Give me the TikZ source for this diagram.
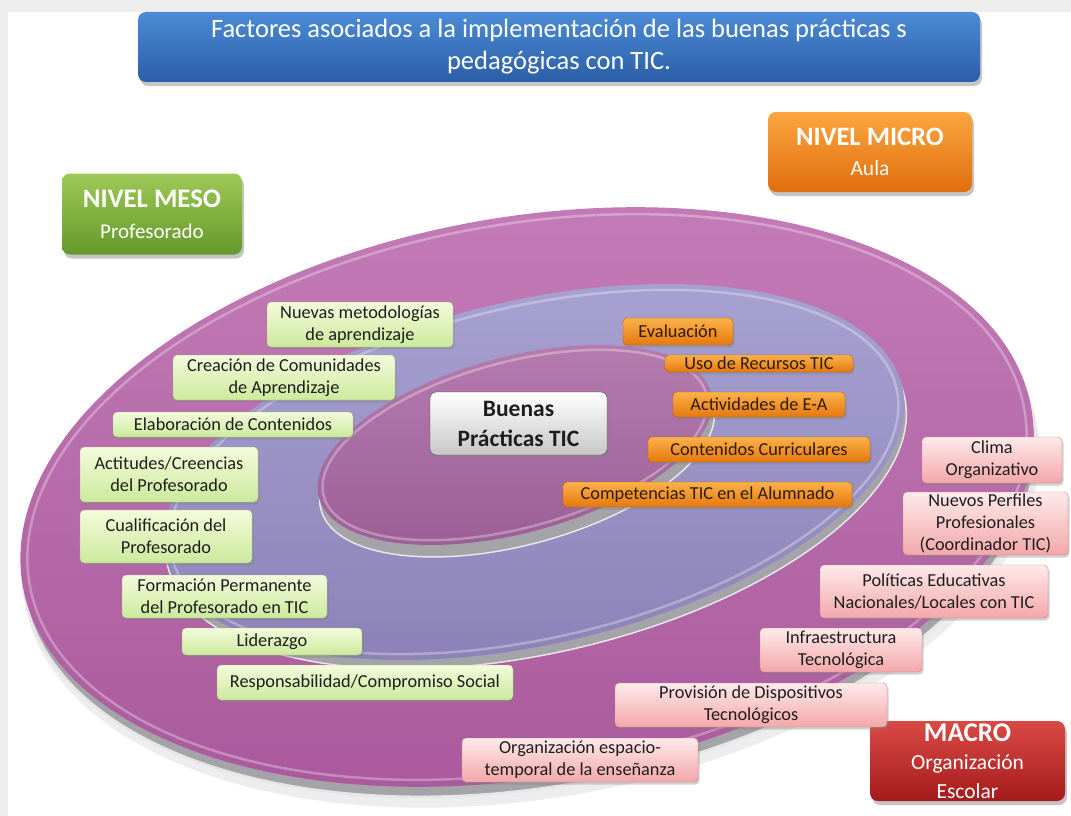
\documentclass[tikz,border=0pt]{standalone}
\usepackage{fontspec}
\setmainfont{Carlito}
\usetikzlibrary{shadows}
\definecolor{bgGray}{HTML}{EEEEEE}
\definecolor{titleTop}{HTML}{4C8BD6}
\definecolor{titleBot}{HTML}{2B5EA7}
\definecolor{mesoTop}{HTML}{9DC957}
\definecolor{mesoBot}{HTML}{65982A}
\definecolor{microTop}{HTML}{FBA640}
\definecolor{microBot}{HTML}{E06E0C}
\definecolor{macroTop}{HTML}{DA4A45}
\definecolor{macroBot}{HTML}{A41B1B}
\definecolor{gTop}{HTML}{F4FBDC}
\definecolor{gBot}{HTML}{CBEA9C}
\definecolor{gLine}{HTML}{9FB37A}
\definecolor{oTop}{HTML}{FBB24A}
\definecolor{oBot}{HTML}{E4780E}
\definecolor{oLine}{HTML}{B85E0A}
\definecolor{oTxt}{HTML}{2E1A05}
\definecolor{pTop}{HTML}{FFEAEA}
\definecolor{pBot}{HTML}{F3A7A9}
\definecolor{pLine}{HTML}{C98486}
\definecolor{outerTop}{HTML}{C27AB6}
\definecolor{outerBot}{HTML}{A9589B}
\definecolor{midTop}{HTML}{A6A0D0}
\definecolor{midBot}{HTML}{8A80B6}
\definecolor{innTop}{HTML}{B57BAE}
\definecolor{innBot}{HTML}{9A5D95}
\definecolor{rimMid}{HTML}{A4A4A8}
\definecolor{rimLight}{HTML}{E6E6E8}
\definecolor{txt}{HTML}{1E1E1E}
\begin{document}
\begin{tikzpicture}[x=1pt,y=-1pt,
  box/.style={rounded corners=4pt, inner sep=0pt, align=center, text=txt,
    font=\fontsize{18.3}{22}\selectfont,
    drop shadow={opacity=0.35, shadow xshift=1.5pt, shadow yshift=-2.5pt}},
  gbox/.style={box, draw=gLine, top color=gTop, bottom color=gBot},
  obox/.style={box, draw=oLine, top color=oTop, bottom color=oBot, text=oTxt},
  pbox/.style={box, draw=pLine, top color=pTop, bottom color=pBot},
  level/.style={rounded corners=8pt, inner sep=0pt, align=center, text=white,
    drop shadow={opacity=0.45, shadow xshift=2pt, shadow yshift=-4pt}},
  sz/.style 2 args={minimum width=#1, minimum height=#2},
  rim/.style={fill=rimMid, draw=rimLight, line width=2.5pt},
  gloss/.style={draw=white, opacity=0.3, line width=2.5pt}
]
\useasboundingbox (0,0) rectangle (1071,816);
\fill[bgGray] (0,0) rectangle (1071,816);
\fill[white] (8,12) rectangle (1071,816);

% ---- discs ----
\fill[black, opacity=0.07, rotate around={10:(531,514)}] (531,514) ellipse [x radius=514, y radius=284];
\path[rim, rotate around={10:(529,507)}] (529,507) ellipse [x radius=512, y radius=280];
\shade[rotate around={10:(527,497)}, top color=outerTop, bottom color=outerBot] (527,497) ellipse [x radius=512, y radius=280];
\path[gloss, rotate around={10:(527,497)}] (527,497) ellipse [x radius=505, y radius=273];

\path[rim, line width=1.5pt, rotate around={13:(536,481)}] (536,481) ellipse [x radius=378, y radius=172];
\shade[rotate around={13:(534,472)}, top color=midTop, bottom color=midBot] (534,472) ellipse [x radius=378, y radius=172];
\path[gloss, rotate around={13:(534,472)}] (534,472) ellipse [x radius=372, y radius=166];

\path[rim, line width=1.5pt, rotate around={15:(517,457)}] (517,457) ellipse [x radius=203, y radius=88];
\shade[rotate around={15:(515,445)}, top color=innTop, bottom color=innBot] (515,445) ellipse [x radius=203, y radius=88];
\path[gloss, rotate around={15:(515,445)}] (515,445) ellipse [x radius=198, y radius=83];

% ---- title and levels ----
\node[level, sz={842pt}{70pt}, top color=titleTop, bottom color=titleBot,
  font=\fontsize{26.5}{32}\selectfont] (title) at (559,47)
  {Factores asociados a la implementación de las buenas prácticas s\\pedagógicas con TIC.};
\node[level, sz={204pt}{80pt}, top color=microTop, bottom color=microBot,
  font=\fontsize{21.5}{30}\selectfont] (micro) at (870,152)
  {{\fontsize{26.6}{30}\selectfont\bfseries NIVEL MICRO}\\Aula};
\node[level, sz={180pt}{81pt}, top color=mesoTop, bottom color=mesoBot,
  font=\fontsize{21}{31}\selectfont] (meso) at (152,214)
  {{\fontsize{26.8}{31}\selectfont\bfseries NIVEL MESO}\\Profesorado};
\node[level, sz={195pt}{80pt}, top color=macroTop, bottom color=macroBot,
  font=\fontsize{21.5}{28.5}\selectfont] (macro) at (967.5,761)
  {{\fontsize{27}{28}\selectfont\bfseries MACRO}\\Organización\\Escolar};

% ---- centre ----
\node[box, sz={177pt}{63pt}, draw=black!75, top color=white, bottom color=black!22,
  rounded corners=6pt, font=\fontsize{23.5}{30}\selectfont\bfseries] (bp) at (518.5,423.5)
  {Buenas\\Prácticas TIC};

% ---- meso (green) ----
\node[gbox, sz={186pt}{45pt}] (nm) at (360,324.5) {Nuevas metodologías\\de aprendizaje};
\node[gbox, sz={222pt}{45pt}] (cc) at (284,377.5) {Creación de Comunidades\\de Aprendizaje};
\node[gbox, sz={240pt}{25pt}] (ec) at (233,424.5) {Elaboración de Contenidos};
\node[gbox, sz={178pt}{55pt}] (ac) at (169,474.5) {Actitudes/Creencias\\del Profesorado};
\node[gbox, sz={172pt}{53pt}] (cq) at (166,536.5) {Cualificación del\\Profesorado};
\node[gbox, sz={205pt}{43pt}] (fp) at (224.5,596.5) {Formación Permanente\\del Profesorado en TIC};
\node[gbox, sz={180pt}{27pt}] (li) at (272,641.5) {Liderazgo};
\node[gbox, sz={296pt}{35pt}] (rc) at (365,682.5) {Responsabilidad/Compromiso Social};

% ---- micro (orange) ----
\node[obox, sz={110pt}{27pt}] (ev) at (678,331.5) {Evaluación};
\node[obox, sz={188pt}{17pt}] (ur) at (759,363.5) {Uso de Recursos TIC};
\node[obox, sz={172pt}{25pt}] (ae) at (759,404.5) {Actividades de E-A};
\node[obox, sz={222pt}{25pt}] (ccu) at (759,449.5) {Contenidos Curriculares};
\node[obox, sz={289pt}{25pt}] (ct) at (707.5,494.5) {Competencias TIC en el Alumnado};

% ---- macro (pink) ----
\node[pbox, sz={140pt}{46pt}] (cl) at (992,460) {Clima\\Organizativo};
\node[pbox, sz={165pt}{63pt}] (np) at (985.5,523.5) {Nuevos Perfiles\\Profesionales\\(Coordinador TIC)};
\node[pbox, sz={228pt}{53pt}] (po) at (934,591.5) {Políticas Educativas\\Nacionales/Locales con TIC};
\node[pbox, sz={162pt}{44pt}] (inf) at (841,650) {Infraestructura\\Tecnológica};
\node[pbox, sz={272pt}{44pt}] (pr) at (751,705) {Provisión de Dispositivos\\Tecnológicos};
\node[pbox, sz={236pt}{44pt}] (oe) at (580,760) {Organización espacio-\\temporal de la enseñanza};
\end{tikzpicture}
\end{document}
